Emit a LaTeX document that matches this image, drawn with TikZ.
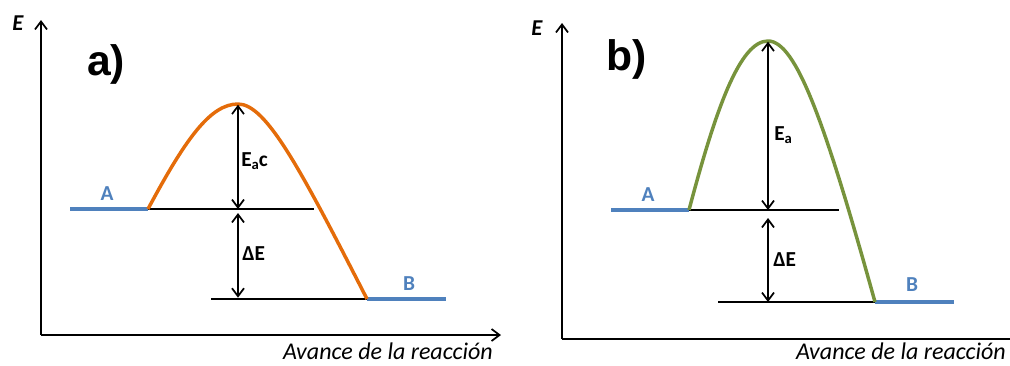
\documentclass[tikz,border=0pt]{standalone}
\usepackage{fontspec}
\setmainfont{Carlito}
\newfontfamily\panelfont{Liberation Sans}
\usetikzlibrary{arrows.meta}
\definecolor{curveA}{HTML}{E46C0A}
\definecolor{curveB}{HTML}{77933C}
\definecolor{lvl}{HTML}{4F81BD}
\begin{document}
\begin{tikzpicture}[x=0.75pt,y=-0.75pt,
  axis/.style={line width=1.6pt,-{Straight Barb[length=6pt,width=9pt,line width=1.3pt]}},
  level/.style={lvl,line width=2.4pt},
  refline/.style={black,line width=1pt},
  dim/.style={line width=1.3pt,{Straight Barb[length=6pt,width=9pt]}-{Straight Barb[length=6pt,width=9pt]}},
  lvllabel/.style={text=lvl,font=\fontsize{16pt}{17pt}\selectfont\bfseries,inner sep=0pt},
  dimlabel/.style={font=\fontsize{16pt}{17pt}\selectfont\bfseries,inner sep=0pt,anchor=west},
  axlabel/.style={font=\fontsize{18pt}{19pt}\selectfont\itshape,inner sep=0pt},
  elabel/.style={font=\fontsize{17pt}{18pt}\selectfont\bfseries\itshape,inner sep=0pt},
  panel/.style={font=\panelfont\fontsize{32pt}{34pt}\selectfont\bfseries,inner sep=0pt}]
\useasboundingbox (0,0) rectangle (1010,365);
% ---------- panel a ----------
\coordinate (oa) at (41,335);
\coordinate (ya) at (41,20);
\coordinate (xa) at (501,335);
\draw[axis] (oa) -- (ya);
\draw[axis] (oa) -- (xa);
\node[elabel] (Ea) at (18,23) {E};
\node[panel] (pa) at (106,64) {a)};
\node[axlabel,anchor=east] (xla) at (493,351) {Avance de la reacción};
\coordinate (a1) at (70,209);
\coordinate (a2) at (148,209);
\coordinate (apk) at (238,104);
\coordinate (a3) at (367,299);
\coordinate (a4) at (446,299);
\coordinate (ar) at (314,209);
\coordinate (al) at (211,299);
\coordinate (amid) at (238,209);
\coordinate (abot) at (238,299);
\draw[refline] (a2) -- (ar);
\draw[refline] (al) -- (a3);
\draw[level] (a1) -- (a2);
\draw[level] (a3) -- (a4);
\draw[curveA,line width=2.6pt] (a2) .. controls (185,140) and (210,104) .. (apk)
  .. controls (266,104) and (300,168) .. (a3);
\draw[dim] ([yshift=-0.5pt]apk) -- (amid);
\draw[dim] ([yshift=-3pt]amid) -- ([yshift=1pt]abot);
\node[lvllabel] (la) at (107,194) {A};
\node[lvllabel] (lb) at (409,284) {B};
\node[dimlabel] (eac) at (241,161) {E\raisebox{-0.35ex}{\fontsize{11pt}{12pt}\selectfont a}c};
\node[dimlabel] (dea) at (242,254) {ΔE};
% ---------- panel b ----------
\coordinate (ob) at (562,339);
\coordinate (yb) at (562,23);
\coordinate (xb) at (1015,339);
\draw[axis] (ob) -- (yb);
\draw[line width=1.6pt] (ob) -- (xb);
\node[elabel] (Eb) at (537,28) {E};
\node[panel] (pb) at (627,59) {b)};
\node[axlabel,anchor=east] (xlb) at (1006,351) {Avance de la reacción};
\coordinate (b1) at (611,210);
\coordinate (b2) at (689,210);
\coordinate (bpk) at (768,41);
\coordinate (b3) at (875,302);
\coordinate (b4) at (954,302);
\coordinate (br) at (839,210);
\coordinate (bl) at (718,302);
\coordinate (bmid) at (768,210);
\coordinate (bbot) at (768,302);
\draw[refline] (b2) -- (br);
\draw[refline] (bl) -- (b3);
\draw[level] (b1) -- (b2);
\draw[level] (b3) -- (b4);
\draw[curveB,line width=2.6pt] (b2) .. controls (716,108) and (740,41) .. (bpk)
  .. controls (796,41) and (825,122) .. (b3);
\draw[dim] ([yshift=-0.5pt]bpk) -- (bmid);
\draw[dim] ([yshift=-6pt]bmid) -- (bbot);
\node[lvllabel] (lab) at (648,195) {A};
\node[lvllabel] (lbb) at (912,285) {B};
\node[dimlabel] (eab) at (774,135) {E\raisebox{-0.35ex}{\fontsize{11pt}{12pt}\selectfont a}};
\node[dimlabel] (deb) at (773,260) {ΔE};
\end{tikzpicture}
\end{document}
